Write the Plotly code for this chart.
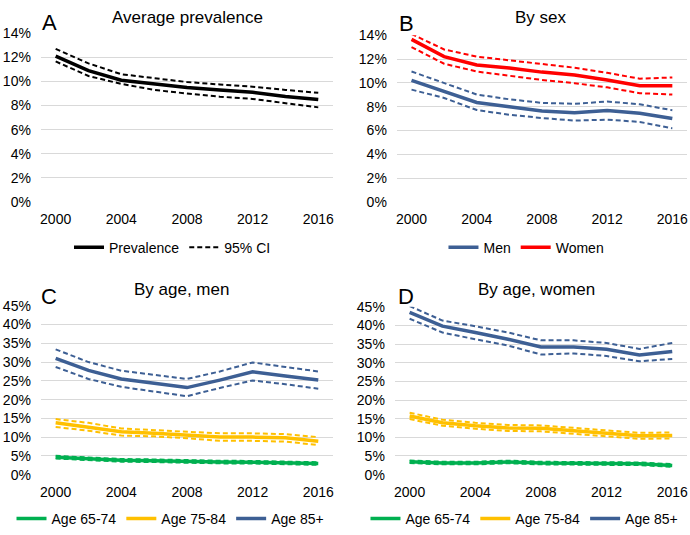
import plotly.graph_objects as go

years = [2000, 2002, 2004, 2006, 2008, 2010, 2012, 2014, 2016]
x_ticks = [2000, 2004, 2008, 2012, 2016]

# Panel A: average prevalence (%)
avg_prev = [12.1, 10.9, 10.1, 9.8, 9.5, 9.3, 9.1, 8.75, 8.5]
avg_upper = [12.7, 11.5, 10.6, 10.25, 9.95, 9.75, 9.57, 9.3, 9.06]
avg_lower = [11.66, 10.45, 9.8, 9.3, 9.0, 8.74, 8.55, 8.2, 7.85]

# Panel B: by sex (%)
men = [10.2, 9.27, 8.35, 8.0, 7.64, 7.5, 7.67, 7.45, 7.0]
men_upper = [10.95, 9.97, 9.02, 8.62, 8.32, 8.24, 8.43, 8.2, 7.7]
men_lower = [9.43, 8.73, 7.72, 7.32, 7.05, 6.83, 6.91, 6.72, 6.18]
women = [13.65, 12.2, 11.5, 11.25, 10.9, 10.65, 10.24, 9.75, 9.75]
women_upper = [14.1, 12.8, 12.2, 11.9, 11.6, 11.27, 10.84, 10.35, 10.45]
women_lower = [13.0, 11.6, 10.95, 10.57, 10.24, 9.97, 9.62, 9.13, 9.02]

# Panel C: by age, men (%)
m65 = [4.65, 4.15, 3.8, 3.7, 3.45, 3.35, 3.3, 3.2, 2.95]
m65_upper = [5.0, 4.5, 4.15, 4.05, 3.8, 3.7, 3.65, 3.55, 3.3]
m65_lower = [4.3, 3.8, 3.45, 3.35, 3.1, 3.0, 2.95, 2.85, 2.6]
m75 = [13.8, 12.7, 11.4, 11.0, 10.6, 10.0, 10.0, 9.8, 8.9]
m75_upper = [14.8, 13.8, 12.3, 11.9, 11.6, 11.0, 11.0, 10.8, 10.0]
m75_lower = [12.7, 11.7, 10.4, 10.2, 9.7, 9.0, 9.0, 8.8, 7.9]
m85 = [31.0, 27.8, 25.5, 24.4, 23.2, 25.2, 27.4, 26.3, 25.2]
m85_upper = [33.4, 30.0, 27.7, 26.5, 25.5, 27.5, 29.9, 28.7, 27.5]
m85_lower = [28.7, 25.5, 23.4, 22.2, 20.9, 23.1, 25.1, 24.1, 22.9]

# Panel D: by age, women (%)
w65 = [3.45, 3.1, 3.1, 3.4, 3.1, 3.1, 2.9, 2.9, 2.45]
w65_upper = [3.8, 3.45, 3.45, 3.75, 3.45, 3.45, 3.25, 3.25, 2.8]
w65_lower = [3.1, 2.75, 2.75, 3.05, 2.75, 2.75, 2.55, 2.55, 2.1]
w75 = [15.7, 13.9, 13.1, 12.5, 12.4, 11.7, 11.2, 10.4, 10.5]
w75_upper = [16.6, 14.7, 13.9, 13.3, 13.2, 12.5, 12.0, 11.2, 11.3]
w75_lower = [14.9, 13.1, 12.3, 11.7, 11.6, 10.9, 10.4, 9.6, 9.7]
w85 = [43.5, 39.8, 38.1, 36.3, 34.2, 34.2, 33.6, 32.1, 33.0]
w85_upper = [45.2, 41.3, 39.8, 38.1, 36.0, 36.0, 35.3, 33.7, 35.3]
w85_lower = [41.8, 38.1, 36.3, 34.6, 32.2, 32.5, 31.8, 30.4, 31.0]

BLACK = "#000000"
BLUE = "#3D5F94"
RED = "#FF0000"
YELLOW = "#FFC000"
GREEN = "#00B050"
FONT = "Liberation Sans, Arial, sans-serif"
MAIN_W = 3.5
CI_W = 2
DASH = "5px,3px"

W, H = 690, 535

def px_x(a, b):
    return [a / W, b / W]

def px_y(top, bottom):
    return [1 - bottom / H, 1 - top / H]

fig = go.Figure()

def add_line(y, color, width, dash, name, xa, ya, legend, showlegend):
    fig.add_trace(go.Scatter(
        x=years, y=y, mode="lines", name=name,
        line=dict(color=color, width=width, dash=dash),
        xaxis=xa, yaxis=ya, legend=legend, showlegend=showlegend,
    ))

# Panel A
add_line(avg_upper, BLACK, CI_W, DASH, "95% CI", "x", "y", "legend", False)
add_line(avg_lower, BLACK, CI_W, DASH, "95% CI", "x", "y", "legend", False)
add_line(avg_prev, BLACK, MAIN_W, "solid", "Prevalence", "x", "y", "legend", True)
fig.add_trace(go.Scatter(x=[None], y=[None], mode="lines", name="95% CI",
                         line=dict(color=BLACK, width=CI_W, dash=DASH),
                         xaxis="x", yaxis="y", legend="legend", showlegend=True))

# Panel B
add_line(men_upper, BLUE, CI_W, DASH, "Men CI", "x2", "y2", "legend2", False)
add_line(men_lower, BLUE, CI_W, DASH, "Men CI", "x2", "y2", "legend2", False)
add_line(women_upper, RED, CI_W, DASH, "Women CI", "x2", "y2", "legend2", False)
add_line(women_lower, RED, CI_W, DASH, "Women CI", "x2", "y2", "legend2", False)
add_line(men, BLUE, MAIN_W, "solid", "Men", "x2", "y2", "legend2", True)
add_line(women, RED, MAIN_W, "solid", "Women", "x2", "y2", "legend2", True)

# Panel C
for up, lo, col in [(m85_upper, m85_lower, BLUE), (m75_upper, m75_lower, YELLOW), (m65_upper, m65_lower, GREEN)]:
    add_line(up, col, CI_W, DASH, "CI", "x3", "y3", "legend3", False)
    add_line(lo, col, CI_W, DASH, "CI", "x3", "y3", "legend3", False)
add_line(m65, GREEN, MAIN_W, "solid", "Age 65-74", "x3", "y3", "legend3", True)
add_line(m75, YELLOW, MAIN_W, "solid", "Age 75-84", "x3", "y3", "legend3", True)
add_line(m85, BLUE, MAIN_W, "solid", "Age 85+", "x3", "y3", "legend3", True)

# Panel D
for up, lo, col in [(w85_upper, w85_lower, BLUE), (w75_upper, w75_lower, YELLOW), (w65_upper, w65_lower, GREEN)]:
    add_line(up, col, CI_W, DASH, "CI", "x4", "y4", "legend4", False)
    add_line(lo, col, CI_W, DASH, "CI", "x4", "y4", "legend4", False)
add_line(w65, GREEN, MAIN_W, "solid", "Age 65-74", "x4", "y4", "legend4", True)
add_line(w75, YELLOW, MAIN_W, "solid", "Age 75-84", "x4", "y4", "legend4", True)
add_line(w85, BLUE, MAIN_W, "solid", "Age 85+", "x4", "y4", "legend4", True)

tickfont = dict(family=FONT, size=14, color="#000000")

def xaxis(domain, anchor):
    return dict(domain=domain, anchor=anchor, range=[1999.1, 2016.9],
                tickvals=x_ticks, ticktext=[str(v) for v in x_ticks],
                showgrid=False, zeroline=False, showline=False, ticks="",
                ticklabelstandoff=7,
                tickfont=tickfont, fixedrange=True)

def yaxis(domain, anchor, ymax, dtick):
    return dict(domain=domain, anchor=anchor, range=[0, ymax], dtick=dtick,
                ticksuffix="%", showgrid=True, gridcolor="#D9D9D9", gridwidth=1,
                zeroline=False, showline=False, ticks="", tickfont=tickfont,
                ticklabelstandoff=9, fixedrange=True)

legfont = dict(family=FONT, size=14, color="#000000")

def legend(xc, yc):
    return dict(orientation="h", x=xc / W, y=1 - yc / H, xanchor="center",
                yanchor="middle", font=legfont, bgcolor="rgba(0,0,0,0)",
                itemwidth=30, tracegroupgap=0, traceorder="normal")

fig.update_layout(
    width=W, height=H,
    margin=dict(l=0, r=0, t=0, b=0),
    paper_bgcolor="white", plot_bgcolor="white",
    font=dict(family=FONT, color="#000000"),
    hovermode=False,
    xaxis=xaxis(px_x(40, 333), "y"),
    yaxis=yaxis(px_y(26, 200), "x", 14, 2),
    xaxis2=xaxis(px_x(397, 688), "y2"),
    yaxis2=yaxis(px_y(28, 200), "x2", 14, 2),
    xaxis3=xaxis(px_x(40, 333), "y3"),
    yaxis3=yaxis(px_y(307, 481), "x3", 45, 5),
    xaxis4=xaxis(px_x(395, 688), "y4"),
    yaxis4=yaxis(px_y(308, 481), "x4", 45, 5),
    legend=legend(172, 247),
    legend2=legend(527, 247),
    legend3=legend(170, 527),
    legend4=legend(525, 527),
)

def label(text, x, y, size, xanchor="center"):
    fig.add_annotation(text=text, x=x / W, y=1 - y / H, xref="paper", yref="paper",
                       xanchor=xanchor, yanchor="middle", showarrow=False,
                       font=dict(family=FONT, size=size, color="#000000"))

label("A", 39, 15, 22, "left")
label("Average prevalence", 187, 10, 17)
label("B", 397, 16, 22, "left")
label("By sex", 542, 10, 17)
label("C", 38, 297, 22, "left")
label("By age, men", 181, 290, 17)
label("D", 396, 297, 22, "left")
label("By age, women", 537, 290, 17)

fig.write_html("out.html",
               config={"displayModeBar": False, "staticPlot": True},
               post_script="document.body.style.margin='0';document.body.style.overflow='hidden';")
